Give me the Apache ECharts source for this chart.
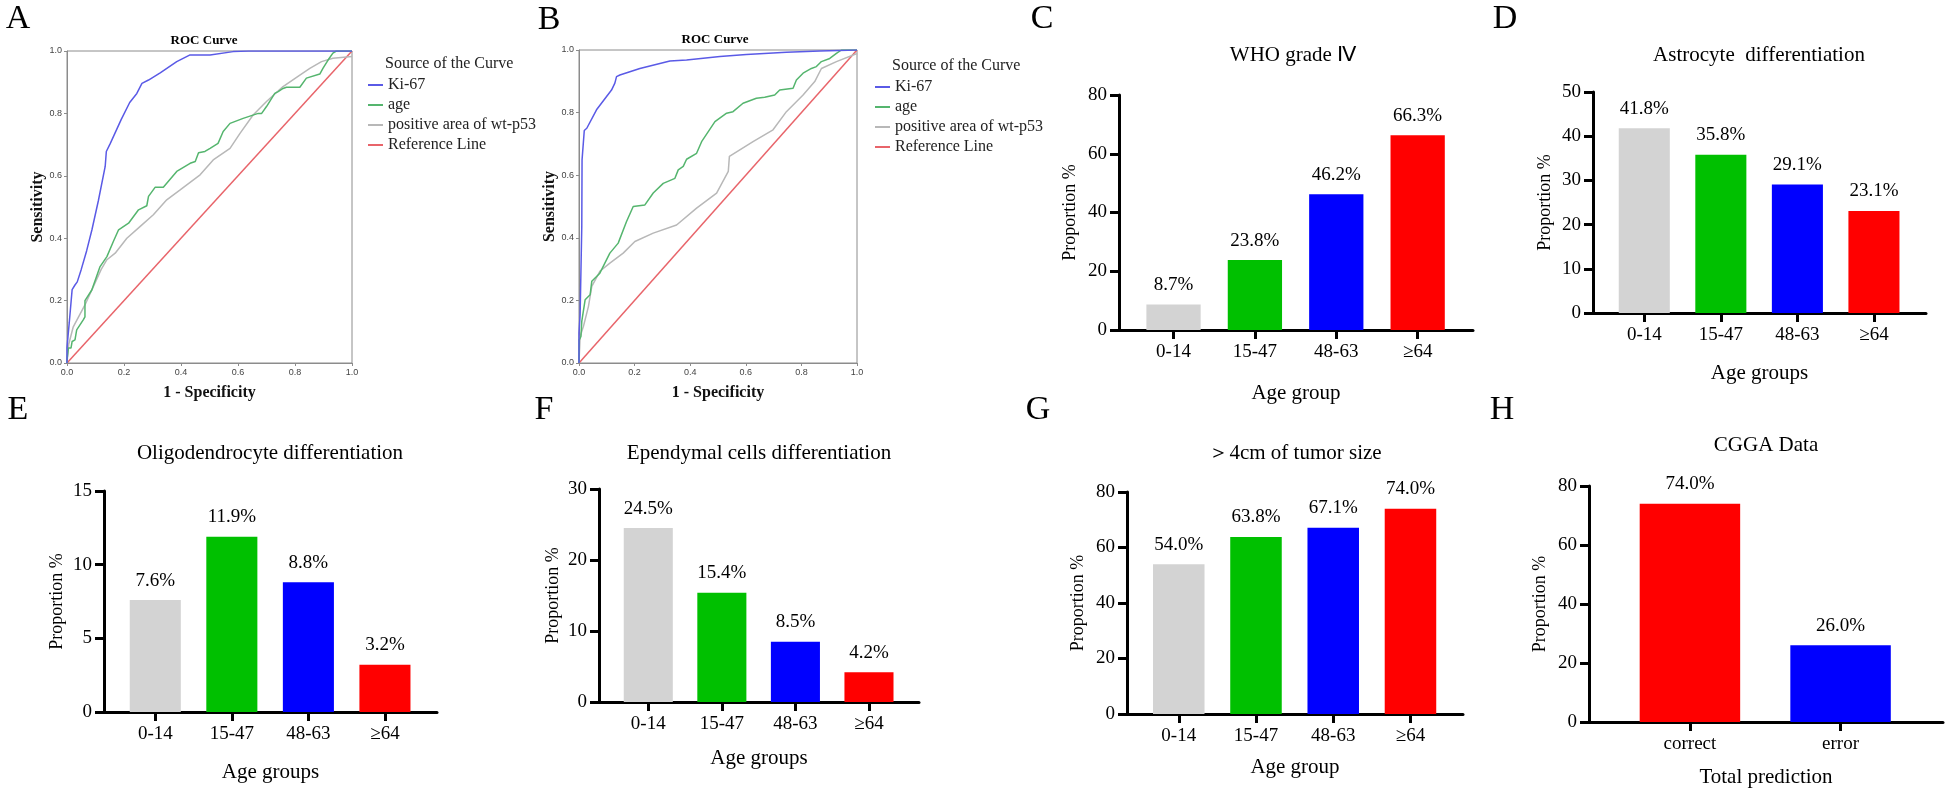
<!DOCTYPE html>
<html><head><meta charset="utf-8">
<script src="https://cdn.jsdelivr.net/npm/echarts@6/dist/echarts.min.js"></script>
<style>html,body{margin:0;padding:0;background:#fff}#c{width:1946px;height:790px}</style>
</head><body><div id="c"></div>
<script>
// ---------- DATA ----------
const ageGroups = ['0-14', '15-47', '48-63', '≥64'];
const predGroups = ['correct', 'error'];
const whoGrade4 = [8.7, 23.8, 46.2, 66.3];
const astrocyte = [41.8, 35.8, 29.1, 23.1];
const oligodendrocyte = [7.6, 11.9, 8.8, 3.2];
const ependymal = [24.5, 15.4, 8.5, 4.2];
const tumorOver4cm = [54.0, 63.8, 67.1, 74.0];
const cggaPrediction = [74.0, 26.0];
const barColors4 = ['#d3d3d3', '#00c000', '#0000ff', '#ff0000'];
const barColors2 = ['#ff0000', '#0000ff'];
const rocSeriesNames = ['Ki-67', 'age', 'positive area of wt-p53', 'Reference Line'];

const rocA_ki67 = [[0,0],[0,0.05],[0.008,0.13],[0.018,0.235],[0.028,0.25],[0.036,0.26],[0.05,0.3],[0.069,0.36],[0.0875,0.427],[0.11,0.52],[0.134,0.63],[0.138,0.678],[0.152,0.704],[0.19,0.78],[0.22,0.835],[0.245,0.864],[0.263,0.896],[0.286,0.907],[0.327,0.93],[0.385,0.966],[0.43,0.987],[0.502,0.987],[0.583,0.998],[0.636,1],[1,1]];
const rocA_age = [[0,0],[0,0.01],[0.005,0.048],[0.014,0.048],[0.018,0.069],[0.028,0.074],[0.034,0.106],[0.057,0.138],[0.063,0.148],[0.063,0.2],[0.087,0.234],[0.116,0.309],[0.14,0.341],[0.163,0.39],[0.181,0.427],[0.216,0.448],[0.251,0.491],[0.28,0.504],[0.286,0.534],[0.309,0.563],[0.338,0.563],[0.385,0.614],[0.432,0.64],[0.45,0.646],[0.4615,0.674],[0.484,0.678],[0.502,0.688],[0.53,0.704],[0.548,0.742],[0.572,0.768],[0.618,0.784],[0.671,0.8],[0.683,0.8],[0.7,0.822],[0.729,0.864],[0.741,0.87],[0.758,0.88],[0.77,0.884],[0.817,0.884],[0.84,0.913],[0.887,0.926],[0.898,0.944],[0.916,0.971],[0.933,0.993],[0.945,1],[1,1]];
const rocA_p53 = [[0,0],[0.006,0.06],[0.022,0.116],[0.063,0.186],[0.098,0.256],[0.12,0.3],[0.14,0.331],[0.169,0.352],[0.21,0.4],[0.257,0.438],[0.303,0.475],[0.35,0.523],[0.397,0.555],[0.467,0.603],[0.513,0.651],[0.572,0.688],[0.607,0.736],[0.653,0.795],[0.7,0.838],[0.758,0.886],[0.817,0.923],[0.852,0.944],[0.893,0.966],[0.933,0.977],[1,0.982]];
const rocB_ki67 = [[0,0],[0,0.096],[0.004,0.154],[0.01,0.16],[0.01,0.436],[0.011,0.649],[0.019,0.743],[0.028,0.75],[0.063,0.809],[0.117,0.872],[0.129,0.894],[0.135,0.915],[0.147,0.92],[0.219,0.941],[0.327,0.965],[0.387,0.968],[0.507,0.979],[0.602,0.986],[0.746,0.993],[0.866,0.997],[1,1]];
const rocB_age = [[0,0],[0.001,0.074],[0.007,0.085],[0.01,0.133],[0.022,0.202],[0.04,0.218],[0.046,0.261],[0.075,0.287],[0.093,0.319],[0.111,0.351],[0.141,0.383],[0.171,0.452],[0.195,0.5],[0.237,0.505],[0.267,0.543],[0.303,0.574],[0.345,0.59],[0.357,0.617],[0.375,0.628],[0.387,0.651],[0.423,0.67],[0.441,0.707],[0.465,0.739],[0.489,0.771],[0.531,0.798],[0.554,0.803],[0.59,0.83],[0.638,0.846],[0.668,0.849],[0.704,0.856],[0.722,0.872],[0.77,0.878],[0.782,0.904],[0.806,0.926],[0.836,0.941],[0.854,0.947],[0.872,0.963],[0.902,0.973],[0.926,0.989],[0.944,1],[1,1]];
const rocB_p53 = [[0,0],[0.004,0.085],[0.016,0.117],[0.034,0.181],[0.046,0.245],[0.075,0.293],[0.111,0.319],[0.159,0.351],[0.201,0.388],[0.267,0.415],[0.351,0.441],[0.423,0.495],[0.495,0.543],[0.537,0.612],[0.541,0.66],[0.626,0.707],[0.698,0.745],[0.746,0.803],[0.806,0.856],[0.848,0.899],[0.872,0.941],[0.926,0.963],[1,0.989]];
const rocReference = [[0,0],[1,1]];

// ---------- LAYOUT / STYLE ----------
const SERIF = 'Liberation Serif';
const SANS = 'Liberation Sans';
const rocColors = ['#5a5ae6', '#55b56e', '#b8b8b8', '#e8646a'];
const grids = [], xAxes = [], yAxes = [], series = [], texts = [];

function serifStyle(size, extra) {
  return Object.assign({ fontFamily: SERIF, fontSize: size, color: '#000', fontStyle: 'normal', fontWeight: 'normal' }, extra || {});
}

function addText(t, x, y, size, opts) {
  opts = opts || {};
  texts.push({
    type: 'text', x: x, y: y, silent: true,
    style: {
      text: t, fontSize: size, fontFamily: opts.family || SERIF, fontWeight: opts.weight || 'normal',
      fill: opts.color || '#000', align: opts.align || 'center', verticalAlign: 'middle',
      textAlign: opts.align || 'center', textVerticalAlign: 'middle'
    }
  });
}

function addRoc(p) {
  const gi = grids.length;
  grids.push({ left: p.left, top: p.top, width: p.width, height: p.height, show: true, borderColor: '#8c8c8c', borderWidth: 1 });
  const axCommon = {
    gridIndex: gi, type: 'value', min: 0, max: 1, interval: 0.2,
    axisLine: { show: true, onZero: false, lineStyle: { color: '#8c8c8c', width: 1 } },
    axisTick: { show: true, length: 3, lineStyle: { color: '#8c8c8c' } },
    splitLine: { show: false },
    axisLabel: { fontSize: 9, color: '#444', fontFamily: SANS, margin: 5, formatter: v => v.toFixed(1) },
    nameLocation: 'middle',
    nameTextStyle: serifStyle(16, { fontWeight: 'bold', color: '#111' })
  };
  xAxes.push(Object.assign({}, axCommon, { name: '1 - Specificity', nameGap: 22 }));
  yAxes.push(Object.assign({}, axCommon, { name: 'Sensitivity', nameGap: 21 }));
  const datas = [p.ref, p.p53, p.age, p.ki];
  const names = [rocSeriesNames[3], rocSeriesNames[2], rocSeriesNames[1], rocSeriesNames[0]];
  const cols = [rocColors[3], rocColors[2], rocColors[1], rocColors[0]];
  datas.forEach((d, k) => {
    series.push({
      type: 'line', name: names[k], xAxisIndex: gi, yAxisIndex: gi, data: d,
      symbol: 'none', showSymbol: false, animation: false, silent: true,
      lineStyle: { width: 1.5, color: cols[k] }, itemStyle: { color: cols[k] }, z: 2 + k
    });
  });
  addText('ROC Curve', p.titleX, p.titleY, 13, { weight: 'bold' });
  addText('Source of the Curve', p.legendX + 17, p.legendY - 24, 16, { align: 'left', color: '#222' });
}

function addBar(p) {
  const gi = grids.length;
  grids.push({ left: p.left, top: p.top, width: p.width, height: p.height });
  const n = p.cats.length;
  const min = -0.67, max = n - 1 + 0.68;
  const band = p.width / (max - min);
  const pos = p.cats.map((c, i) => i);
  xAxes.push({
    gridIndex: gi, type: 'value', min: min, max: max,
    axisLine: { show: true, onZero: false, lineStyle: { color: '#000', width: 3 } },
    axisTick: { show: true, customValues: pos, length: 9, lineStyle: { color: '#000', width: 3 } },
    axisLabel: Object.assign(serifStyle(19), {
      customValues: pos, margin: 13,
      formatter: v => '{t|' + p.cats[Math.round(v)] + '}',
      rich: { t: serifStyle(19) }
    }),
    splitLine: { show: false },
    name: p.xName, nameLocation: 'middle', nameGap: p.xNameCenter - 10,
    nameTextStyle: serifStyle(21)
  });
  yAxes.push({
    gridIndex: gi, type: 'value', min: 0, max: p.ymax, interval: p.yint,
    axisLine: { show: true, onZero: false, lineStyle: { color: '#000', width: 3 } },
    axisTick: { show: true, length: 9, lineStyle: { color: '#000', width: 3 } },
    axisLabel: Object.assign(serifStyle(19), {
      margin: 12,
      formatter: v => '{t|' + v + '}',
      rich: { t: serifStyle(19) }
    }),
    splitLine: { show: false },
    name: '{t|Proportion %}', nameLocation: 'middle', nameGap: p.yNameCenter - 9,
    nameTextStyle: Object.assign(serifStyle(18), { rich: { t: serifStyle(18) } })
  });
  series.push({
    type: 'bar', xAxisIndex: gi, yAxisIndex: gi, barWidth: band * 0.667, animation: false, silent: true,
    data: p.values.map((v, i) => ({ value: [i, v], itemStyle: { color: p.colors[i] } })),
    label: Object.assign(serifStyle(19), { show: true, position: 'top', distance: 10, formatter: prm => prm.value[1].toFixed(1) + '%' })
  });
  addText(p.title, p.titleX, p.titleY, 21);
}

addRoc({ left: 67, top: 51, width: 285, height: 312, ki: rocA_ki67, age: rocA_age, p53: rocA_p53, ref: rocReference, titleX: 204, titleY: 41, legendX: 368, legendY: 88 });
addRoc({ left: 579, top: 50, width: 278, height: 313, ki: rocB_ki67, age: rocB_age, p53: rocB_p53, ref: rocReference, titleX: 715, titleY: 40, legendX: 875, legendY: 90 });

addBar({ left: 1119, top: 95, width: 354, height: 235, cats: ageGroups, values: whoGrade4, colors: barColors4, ymax: 80, yint: 20, xName: 'Age group', xNameCenter: 63, yNameCenter: 49, title: 'WHO grade Ⅳ', titleX: 1293, titleY: 55 });
addBar({ left: 1593, top: 92, width: 333, height: 221, cats: ageGroups, values: astrocyte, colors: barColors4, ymax: 50, yint: 10, xName: 'Age groups', xNameCenter: 60, yNameCenter: 48, title: 'Astrocyte  differentiation', titleX: 1759, titleY: 55 });
addBar({ left: 104, top: 491, width: 333, height: 221, cats: ageGroups, values: oligodendrocyte, colors: barColors4, ymax: 15, yint: 5, xName: 'Age groups', xNameCenter: 60, yNameCenter: 47, title: 'Oligodendrocyte differentiation', titleX: 270, titleY: 453 });
addBar({ left: 599, top: 489, width: 320, height: 213, cats: ageGroups, values: ependymal, colors: barColors4, ymax: 30, yint: 10, xName: 'Age groups', xNameCenter: 56, yNameCenter: 46, title: 'Ependymal cells differentiation', titleX: 759, titleY: 453 });
addBar({ left: 1127, top: 492, width: 336, height: 222, cats: ageGroups, values: tumorOver4cm, colors: barColors4, ymax: 80, yint: 20, xName: 'Age group', xNameCenter: 53, yNameCenter: 49, title: '＞4cm of tumor size', titleX: 1295, titleY: 453 });
addBar({ left: 1589, top: 486, width: 354, height: 236, cats: predGroups, values: cggaPrediction, colors: barColors2, ymax: 80, yint: 20, xName: 'Total prediction', xNameCenter: 55, yNameCenter: 49, title: 'CGGA Data', titleX: 1766, titleY: 445 });

// panel letters
[['A', 18, 19], ['B', 549, 20], ['C', 1042, 19], ['D', 1505, 19], ['E', 18, 410], ['F', 544, 410], ['G', 1038, 410], ['H', 1502, 410]]
  .forEach(l => addText(l[0], l[1], l[2], 34));

const legendCommon = {
  data: rocSeriesNames, orient: 'vertical', icon: 'rect', itemWidth: 15, itemHeight: 2, itemGap: 4,
  selectedMode: false, padding: 0,
  textStyle: serifStyle(16, { color: '#222' })
};

const chart = echarts.init(document.getElementById('c'), null, { renderer: 'canvas' });
chart.setOption({
  backgroundColor: '#fff',
  animation: false,
  textStyle: { fontFamily: SERIF },
  grid: grids, xAxis: xAxes, yAxis: yAxes, series: series,
  legend: [
    Object.assign({}, legendCommon, { left: 368, top: 77 }),
    Object.assign({}, legendCommon, { left: 875, top: 79 })
  ],
  graphic: { elements: texts }
});
</script>
</body></html>
